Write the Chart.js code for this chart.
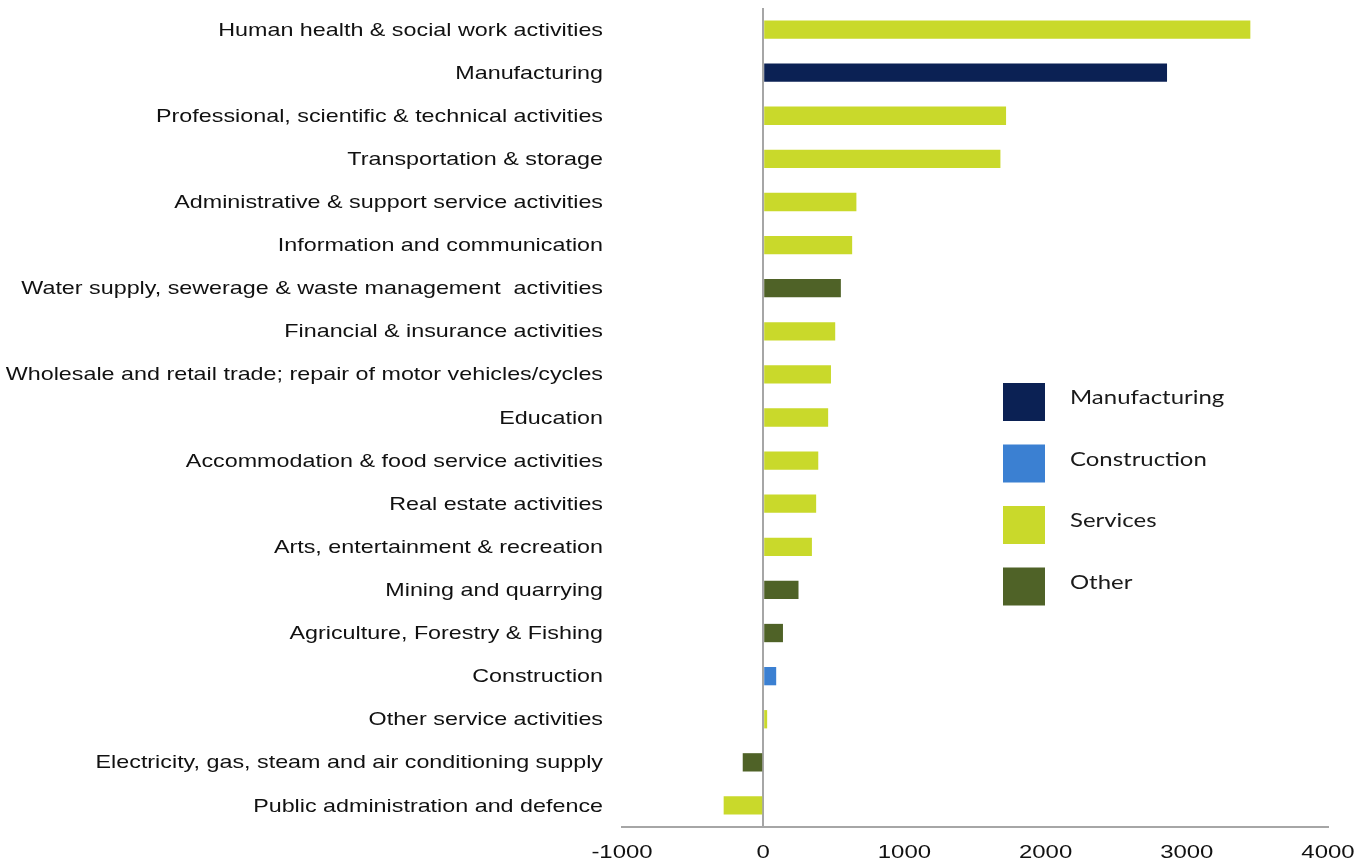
<!DOCTYPE html>
<html>
<head>
<meta charset="utf-8">
<script src="https://cdn.jsdelivr.net/npm/chart.js@4.4.0/dist/chart.umd.min.js"></script>
<style>
    html, body { margin: 0; padding: 0; background: #fff; }
    #wrap { width: 1370px; height: 863px; }
</style>
</head>
<body>
<div id="wrap"><canvas id="mainChart" width="1370" height="863"></canvas></div>
<script>
// data
var categories = [
    'Human health & social work activities',
    'Manufacturing',
    'Professional, scientific & technical activities',
    'Transportation & storage',
    'Administrative & support service activities',
    'Information and communication',
    'Water supply, sewerage & waste management  activities',
    'Financial & insurance activities',
    'Wholesale and retail trade; repair of motor vehicles/cycles',
    'Education',
    'Accommodation & food service activities',
    'Real estate activities',
    'Arts, entertainment & recreation',
    'Mining and quarrying',
    'Agriculture, Forestry & Fishing',
    'Construction',
    'Other service activities',
    'Electricity, gas, steam and air conditioning supply',
    'Public administration and defence'
];
var values = [3450, 2860, 1720, 1680, 660, 630, 550, 510, 480, 460, 390, 375, 345, 250, 140, 92, 28, -145, -280];
var sectors = ['Services', 'Manufacturing', 'Services', 'Services', 'Services', 'Services', 'Other', 'Services',
    'Services', 'Services', 'Services', 'Services', 'Services', 'Other', 'Other', 'Construction', 'Services', 'Other', 'Services'];
var sectorNames = ['Manufacturing', 'Construction', 'Services', 'Other'];
var sectorColors = ['#0b2154', '#3b80d2', '#c9d92b', '#4f6227'];
var xTicks = [-1000, 0, 1000, 2000, 3000, 4000];

// the original text is a bit stretched sideways
var STRETCH = 1.26;

function colorOf(sector) {
    return sectorColors[sectorNames.indexOf(sector)];
}

function wideText(ctx, text, x, y, align) {
    ctx.save();
    ctx.translate(x, y);
    ctx.scale(STRETCH, 1);
    ctx.textAlign = align;
    ctx.fillText(text, 0, 0);
    ctx.restore();
}

// axis labels, drawn at the scales' own tick positions
var wideLabels = {
    id: 'wideLabels',
    afterDraw: function (chart) {
        var ctx = chart.ctx;
        var xs = chart.scales.x, ys = chart.scales.y;
        ctx.save();
        ctx.fillStyle = '#111';
        ctx.textBaseline = 'middle';
        ctx.font = '18.5px "Liberation Sans", Arial, sans-serif';
        categories.forEach(function (name, i) {
            wideText(ctx, name, ys.right - 19, ys.getPixelForTick(i) + 1, 'right');
        });
        ctx.font = '19px "Liberation Sans", Arial, sans-serif';
        xTicks.forEach(function (v) {
            wideText(ctx, String(v), xs.getPixelForValue(v), xs.top + 26, 'center');
        });
        ctx.restore();
    }
};

// legend box drawn inside the plot, right of the bars
var sideLegend = {
    id: 'sideLegend',
    afterDraw: function (chart) {
        var ctx = chart.ctx;
        ctx.save();
        ctx.font = '19px Lato, "Open Sans", sans-serif';
        ctx.textBaseline = 'middle';
        for (var i = 0; i < sectorNames.length; i++) {
            var y = 383 + i * 61.5;
            ctx.fillStyle = sectorColors[i];
            ctx.fillRect(1003, y, 42, 38);
            ctx.fillStyle = '#1a1a1a';
            wideText(ctx, sectorNames[i], 1070, y + 15, 'left');
        }
        ctx.restore();
    }
};

var mainChart = new Chart(document.getElementById('mainChart'), {
    type: 'bar',
    data: {
        labels: categories,
        datasets: [{
            data: values,
            backgroundColor: sectors.map(colorOf),
            barPercentage: 0.85,
            categoryPercentage: 0.5
        }]
    },
    options: {
        indexAxis: 'y',
        responsive: false,
        animation: false,
        layout: { padding: { top: 8, right: 42, left: 0, bottom: 0 } },
        plugins: {
            legend: { display: false },
            tooltip: { enabled: false }
        },
        scales: {
            x: {
                min: -1000,
                max: 4000,
                afterBuildTicks: function (scale) {
                    scale.ticks = xTicks.map(function (v) { return { value: v }; });
                },
                afterFit: function (scale) { scale.height = 36; },
                grid: {
                    drawTicks: false,
                    color: function (c) { return c.tick && c.tick.value === 0 ? '#a6a6a6' : 'rgba(0,0,0,0)'; },
                    lineWidth: 2
                },
                border: { display: true, color: '#a6a6a6', width: 2 },
                ticks: { display: false }
            },
            y: {
                afterFit: function (scale) { scale.width = 622; },
                grid: { display: false, drawTicks: false },
                border: { display: false },
                ticks: { display: false }
            }
        }
    },
    plugins: [wideLabels, sideLegend]
});
</script>
</body>
</html>
